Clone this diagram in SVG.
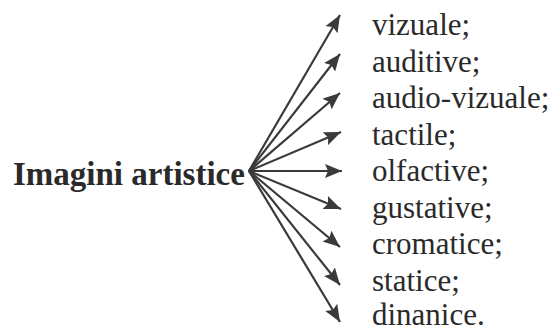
<svg xmlns="http://www.w3.org/2000/svg" width="554" height="330" viewBox="0 0 554 330">
  <style>
    text { font-family: 'Liberation Serif', 'Times New Roman', 'DejaVu Serif', serif; fill: #2a2a2a; }
    .title { font-weight: bold; font-size: 33px; }
    .item { font-size: 31px; }
    .ray { stroke: #3a3a3a; stroke-width: 2.2; fill: none; marker-end: url(#head); }
  </style>
  <defs>
    <marker id="head" markerUnits="userSpaceOnUse" markerWidth="18" markerHeight="14" viewBox="0 0 18 14" refX="17" refY="7" orient="auto">
      <path d="M0,0 L17,7 L0,14 L3,7 Z" fill="#3a3a3a"/>
    </marker>
  </defs>
  <rect width="554" height="330" fill="#ffffff"/>

  <g id="root">
    <text class="title" x="13" y="185" font-family="Liberation Serif, serif">Imagini artistice</text>
  </g>

  <g id="connectors">
    <line class="ray" x1="249" y1="171" x2="340" y2="15"/>
    <line class="ray" x1="249" y1="171" x2="340" y2="54"/>
    <line class="ray" x1="249" y1="171" x2="340" y2="93"/>
    <line class="ray" x1="249" y1="171" x2="341" y2="132"/>
    <line class="ray" x1="249" y1="171" x2="342" y2="171"/>
    <line class="ray" x1="249" y1="171" x2="341" y2="209"/>
    <line class="ray" x1="249" y1="171" x2="340" y2="247"/>
    <line class="ray" x1="249" y1="171" x2="340" y2="285"/>
    <line class="ray" x1="249" y1="171" x2="340" y2="322"/>
  </g>

  <g id="vizuale"><text class="item" x="372" y="35">vizuale;</text></g>
  <g id="auditive"><text class="item" x="372" y="71.5">auditive;</text></g>
  <g id="audio-vizuale"><text class="item" x="372" y="108">audio-vizuale;</text></g>
  <g id="tactile"><text class="item" x="372" y="144.5">tactile;</text></g>
  <g id="olfactive"><text class="item" x="372" y="181">olfactive;</text></g>
  <g id="gustative"><text class="item" x="372" y="217.5">gustative;</text></g>
  <g id="cromatice"><text class="item" x="372" y="254">cromatice;</text></g>
  <g id="statice"><text class="item" x="372" y="290.5">statice;</text></g>
  <g id="dinanice"><text class="item" x="372" y="325">dinanice.</text></g>
</svg>
